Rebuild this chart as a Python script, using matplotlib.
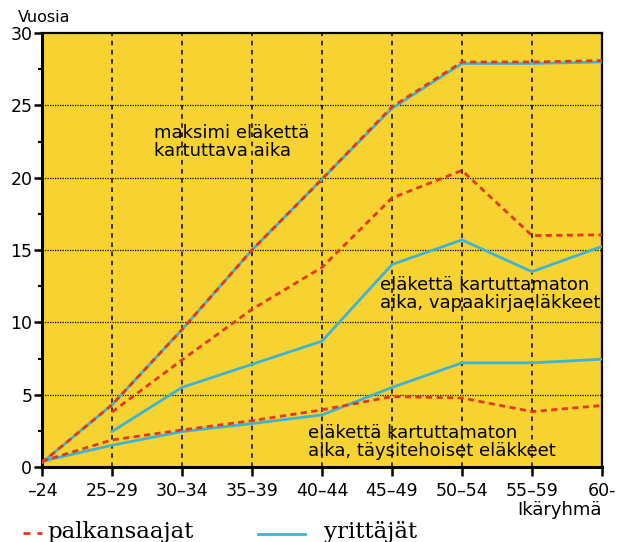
import numpy as np
import matplotlib.pyplot as plt
from matplotlib.lines import Line2D
from matplotlib.ticker import MultipleLocator

# ikäryhmät
groups = ["–24", "25–29", "30–34", "35–39", "40–44", "45–49", "50–54", "55–59", "60-"]

# maksimi eläkettä kartuttava aika
max_palk = [0.3, 4.3, 9.5, 15.0, 19.9, 24.9, 28.0, 28.0, 28.1]
max_yritt = [0.3, 4.3, 9.5, 15.0, 19.9, 24.8, 27.9, 27.9, 28.0]

# kartuttamaton aika, vapaakirjaeläkkeet (alkaa 25-29)
vapaa_palk = [3.8, 7.4, 10.9, 13.8, 18.6, 20.5, 16.0, 16.05]
vapaa_yritt = [2.45, 5.5, 7.1, 8.7, 14.0, 15.7, 13.5, 15.25]

# kartuttamaton aika, täysitehoiset eläkkeet
tays_palk = [0.4, 1.87, 2.56, 3.2, 3.95, 4.87, 4.77, 3.83, 4.25]
tays_yritt = [0.4, 1.5, 2.45, 3.0, 3.6, 5.5, 7.2, 7.2, 7.45]

YELLOW = "#F6D330"
RED = "#E5361E"
BLUE = "#3DB4D6"

fig = plt.figure(figsize=(6.21, 5.42), dpi=100)
ax = fig.add_axes([0.0676, 0.1384, 0.9018, 0.8006])
ax.set_facecolor(YELLOW)

x = np.arange(len(groups))
x2 = x[1:]

lw = 2.0
dash = (0, (2.2, 1.6))
ax.plot(x, max_yritt, color=BLUE, lw=lw, zorder=3)
ax.plot(x, max_palk, color=RED, lw=lw, ls=dash, zorder=4)
ax.plot(x2, vapaa_yritt, color=BLUE, lw=lw, zorder=3)
ax.plot(x2, vapaa_palk, color=RED, lw=lw, ls=dash, zorder=4)
ax.plot(x, tays_yritt, color=BLUE, lw=lw, zorder=3)
ax.plot(x, tays_palk, color=RED, lw=lw, ls=dash, zorder=4)

ax.set_xlim(0, len(groups) - 1)
ax.set_ylim(0, 30)
ax.set_xticks(x)
ax.set_xticklabels(groups, fontsize=12.5)
ax.yaxis.set_major_locator(MultipleLocator(5))
ax.yaxis.set_minor_locator(MultipleLocator(2.5))
ax.tick_params(axis="y", which="major", length=6, width=1.8, labelsize=12.5, pad=1)
ax.tick_params(axis="y", which="minor", length=3, width=1.5)
ax.tick_params(axis="x", which="major", length=6.5, width=1.8, pad=4)

# ruudukko
for xi in x[1:-1]:
    ax.axvline(xi, color="black", lw=1.1, ls=(0, (3, 3)), zorder=1)
for yi in [5, 10, 15, 20, 25]:
    ax.axhline(yi, color="black", lw=0.9, ls=(0, (1, 1)), zorder=1)

for s in ["left", "bottom"]:
    ax.spines[s].set_linewidth(2.2)
for s in ["top", "right"]:
    ax.spines[s].set_linewidth(1.6)

ax.text(-0.34, 30.75, "Vuosia", fontsize=11.5, va="baseline", ha="left")
ax.text(8.0, -2.95, "Ikäryhmä", fontsize=13, va="center", ha="right")

ax.text(1.6, 22.5, "maksimi eläkettä\nkartuttava aika", fontsize=13,
        linespacing=1.0, va="center", ha="left")
ax.text(4.83, 11.95, "eläkettä kartuttamaton\naika, vapaakirjaeläkkeet", fontsize=13,
        linespacing=1.0, va="center", ha="left")
ax.text(3.8, 1.75, "eläkettä kartuttamaton\naika, täysitehoiset eläkkeet", fontsize=13,
        linespacing=1.0, va="center", ha="left")

# selite
fig.add_artist(Line2D([0.037, 0.068], [0.0165, 0.0165], color=RED, lw=2, ls=(0, (2.5, 2.5))))
fig.text(0.077, 0.0075, "palkansaajat", fontsize=16.5, family="DejaVu Serif",
         va="baseline", ha="left")
fig.add_artist(Line2D([0.415, 0.491], [0.0148, 0.0148], color=BLUE, lw=2))
fig.text(0.522, 0.0075, "yrittäjät", fontsize=16.5, family="DejaVu Serif",
         va="baseline", ha="left")

fig.savefig("out.png", dpi=100, facecolor="white")
